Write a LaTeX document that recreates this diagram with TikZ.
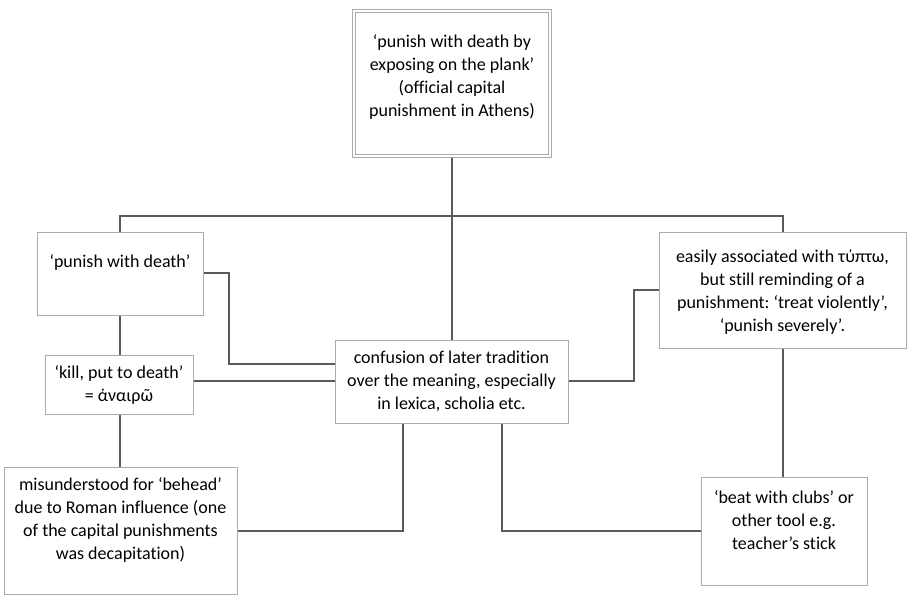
\documentclass[tikz,border=0pt]{standalone}
\usepackage{fontspec}
\setmainfont[Ligatures=NoCommon]{Carlito}
\frenchspacing
\usetikzlibrary{shadows}
\definecolor{boxgray}{HTML}{ABABAB}
\definecolor{linegray}{HTML}{5A5A5A}
\tikzset{
  box/.style={draw=boxgray, line width=0.9pt, fill=white, rectangle, inner sep=0pt,
    drop shadow={shadow xshift=1.2pt, shadow yshift=-1.2pt, opacity=0.15}},
  txt/.style={align=center, inner sep=0pt, font=\fontsize{18}{23}\selectfont},
  link/.style={draw=linegray, line width=1.6pt}
}
\begin{document}
\begin{tikzpicture}[x=1pt, y=-1pt]
\useasboundingbox[fill=white] (0,0) rectangle (907,595);
% connectors
\draw[link] (452,157) -- (452,340);
\draw[link] (120,232) |- (783,216) -- (783,232);
\draw[link] (203,273) -| (229,364) -- (335,364);
\draw[link] (193,381) -- (335,381);
\draw[link] (120,315) -- (120,355);
\draw[link] (120,414) -- (120,467);
\draw[link] (403,423) |- (237,531);
\draw[link] (502,423) |- (701,531);
\draw[link] (783,348) -- (783,477);
\draw[link] (659,290) -| (634,381) -- (568,381);
% boxes
\node[box, minimum width=199pt, minimum height=148pt] (plank) at (451.5,83) {};
\draw[boxgray, line width=0.9pt] (355.5,12.5) rectangle (548,154.5);
\node[txt] (plankt) at (452,77) {‘punish with death by\\exposing on the plank’\\(official capital\\punishment in Athens)};
\node[box, minimum width=166pt, minimum height=83pt] (death) at (120,273.5) {};
\node[txt] (deatht) at (120,262) {‘punish with death’};
\node[box, minimum width=148pt, minimum height=59pt] (kill) at (119,384.5) {};
\node[txt] (killt) at (119,385) {‘kill, put to death’\\= ἀναιρῶ};
\node[box, minimum width=233pt, minimum height=127pt] (behead) at (120.5,530.5) {};
\node[txt] (beheadt) at (120.5,520) {misunderstood for ‘behead’\\due to Roman influence (one\\of the capital punishments\\was decapitation)};
\node[box, minimum width=233pt, minimum height=83pt] (confusion) at (451.5,381.5) {};
\node[txt] (confusiont) at (451.5,381) {confusion of later tradition\\over the meaning, especially\\in lexica, scholia etc.};
\node[box, minimum width=247pt, minimum height=116pt] (typto) at (782.5,290) {};
\node[txt] (typtot) at (782.5,292) {easily associated with τύπτω,\\but still reminding of a\\punishment: ‘treat violently’,\\‘punish severely’.};
\node[box, minimum width=166pt, minimum height=108pt] (clubs) at (784,531) {};
\node[txt] (clubst) at (784,520) {‘beat with clubs’ or\\other tool e.g.\\teacher’s stick};
\end{tikzpicture}
\end{document}
